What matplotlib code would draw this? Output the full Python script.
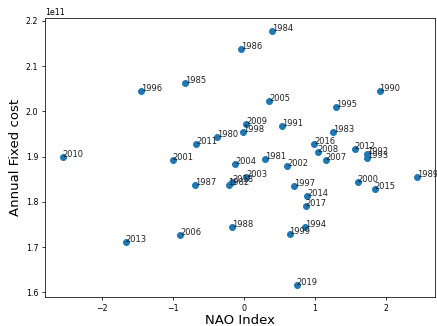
import numpy as np
import matplotlib
matplotlib.use("Agg")
import matplotlib.pyplot as plt

years = np.arange(1980, 2020)
nao = [-0.38, 0.29, -0.22, 1.26, 0.39, -0.83, -0.04, -0.69, -0.17, 2.44,
       1.91, 0.54, 1.73, 1.73, 0.86, 1.30, -1.46, 0.70, -0.01, 0.64,
       1.60, -1.01, 0.61, 0.03, -0.13, 0.35, -0.90, 1.15, 1.04, 0.03,
       -2.56, -0.68, 1.56, -1.67, 0.89, 1.84, 0.99, 0.87, -0.17, 0.74]
# annual fixed cost, units of 1e11
cost = [1.944, 1.894, 1.838, 1.955, 2.178, 2.062, 2.138, 1.838, 1.744, 1.856,
        2.046, 1.967, 1.905, 1.897, 1.744, 2.009, 2.046, 1.835, 1.955, 1.728,
        1.843, 1.893, 1.880, 1.856, 1.884, 2.023, 1.727, 1.892, 1.911, 1.972,
        1.900, 1.928, 1.916, 1.712, 1.814, 1.829, 1.927, 1.790, 1.843, 1.617]
cost = np.array(cost) * 1e11

dpi = 68.3
fig, ax = plt.subplots(figsize=(437 / dpi, 326 / dpi), dpi=dpi)
fig.subplots_adjust(left=0.103, right=0.995, bottom=0.088, top=0.944)

ax.scatter(nao, cost, s=40)
for yr, x, y in zip(years, nao, cost):
    ax.annotate(str(yr), (x, y), color="#222222", fontsize=8.8)

ax.tick_params(labelsize=8.3)
ax.yaxis.get_offset_text().set_fontsize(8.3)
ax.set_xlabel("NAO Index", fontsize=14, labelpad=1.5)
ax.set_ylabel("Annual Fixed cost", fontsize=14)

fig.savefig("out.png", dpi=dpi)
